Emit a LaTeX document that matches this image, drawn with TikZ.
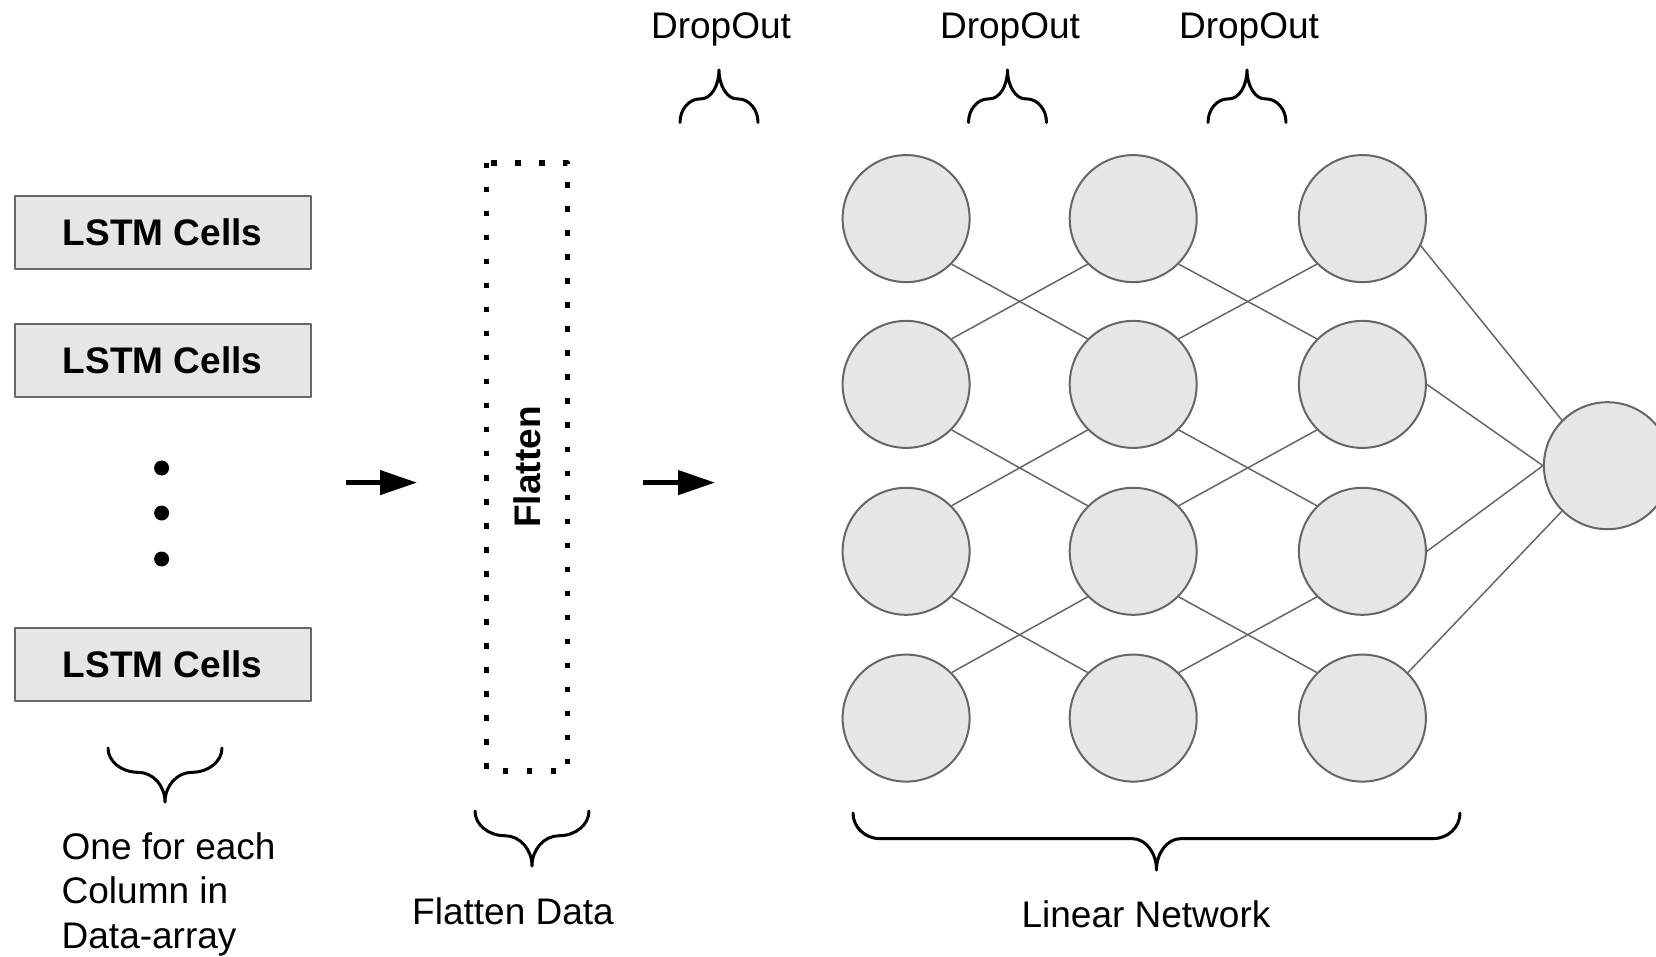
\documentclass[tikz,border=0pt]{standalone}
\usepackage{fontspec}
\setmainfont{Liberation Sans}
\usetikzlibrary{arrows.meta}
\definecolor{cellgray}{HTML}{E6E6E6}
\definecolor{linegray}{HTML}{666666}
% curly brace: left x, right x, y of the ends, depth (negative: tip up), corner
\newcommand{\curlybrace}[5]{%
  \pgfmathsetmacro\braceMid{(#1+#2)/2}
  \pgfmathsetmacro\braceSh{#3+0.45*#4}
  \pgfmathsetmacro\braceTip{#3+#4}
  \draw[bracestyle] (#1,#3) .. controls (#1,{#3+0.25*#4}) and ({#1+0.45*#5},\braceSh) .. ({#1+#5},\braceSh)
    -- ({\braceMid-0.9*#5},\braceSh) .. controls ({\braceMid-0.4*#5},\braceSh) and (\braceMid,{#3+0.7*#4}) .. (\braceMid,\braceTip)
    .. controls (\braceMid,{#3+0.7*#4}) and ({\braceMid+0.4*#5},\braceSh) .. ({\braceMid+0.9*#5},\braceSh)
    -- ({#2-#5},\braceSh) .. controls ({#2-0.45*#5},\braceSh) and (#2,{#3+0.25*#4}) .. (#2,#3);
}
\begin{document}
\begin{tikzpicture}[x=0.5pt, y=-0.5pt, line join=round,
    font=\fontsize{18.5}{22.25}\selectfont,
    cellbox/.style={draw=linegray, fill=cellgray, line width=1pt, inner sep=0pt,
      minimum width=148pt, minimum height=36.5pt, font=\fontsize{18.5}{22.25}\selectfont\bfseries},
    flatbox/.style={draw, line width=2.75pt, dash pattern=on 2.75pt off 9.25pt, inner sep=0pt,
      minimum width=304pt, minimum height=40.5pt, rotate=90, font=\fontsize{18.5}{22.25}\selectfont\bfseries},
    neuron/.style={circle, draw=linegray, fill=cellgray, line width=1pt, inner sep=0pt, minimum size=63.5pt},
    link/.style={draw=linegray, line width=0.75pt},
    flowarrow/.style={line width=2.25pt, -{Triangle[length=18.5pt, width=12pt]}},
    bracestyle/.style={line width=1.5pt, line cap=round},
    note/.style={inner sep=0pt}]
  \useasboundingbox (0,0) rectangle (1656,957);
  \clip (0,0) rectangle (1656,957);
  % LSTM column
  \node[cellbox] (lstm1) at (162.6,232.5) {LSTM Cells};
  \node[cellbox] (lstm2) at (162.6,360.5) {LSTM Cells};
  \node[cellbox] (lstmn) at (162.6,664.6) {LSTM Cells};
  \foreach \y in {468,513,559} \fill (161.6,\y) circle (3.75pt);
  \curlybrace{108}{222}{748}{54}{30}
  \node[note, anchor=north west, align=left] (lstmnote) at (61.3,832) {One for each\\Column in\\Data-array};
  % flatten
  \coordinate (in1) at (346,482.6);
  \coordinate (in2) at (417,482.6);
  \draw[flowarrow] (in1) -- (in2);
  \node[flatbox] (flat) at (527,467) {Flatten};
  \curlybrace{475}{589}{811}{55}{30}
  \node[note, anchor=base] (flatnote) at (513,924) {Flatten Data};
  \coordinate (out1) at (643,482.6);
  \coordinate (out2) at (715,482.6);
  \draw[flowarrow] (out1) -- (out2);
  % linear network
  \foreach \x [count=\c] in {906.1,1133.2,1362.4}
    \foreach \y [count=\r] in {218.6,384.4,551.3,718.1}
      \node[neuron] (n\c\r) at (\x,\y) {};
  \node[neuron] (out) at (1607.4,465.7) {};
  \foreach \c/\d in {1/2,2/3} {
    \foreach \r/\s in {1/2,2/3,3/4}
      \draw[link] (n\c\r.south east) -- (n\d\s.north west);
    \foreach \r/\s in {2/1,3/2,4/3}
      \draw[link] (n\c\r.north east) -- (n\d\s.south west);
  }
  \draw[link] (n31.-25) -- (out.135);
  \draw[link] (n32.east) -- (out.west);
  \draw[link] (n33.east) -- (out.west);
  \draw[link] (n34.north east) -- (out.-135);
  \curlybrace{853}{1460}{813}{57}{27}
  \node[note, anchor=base] (linnote) at (1146,927) {Linear Network};
  % dropout
  \foreach \m/\t [count=\i] in {719/721,1007.5/1010,1247/1249} {
    \curlybrace{\m-39}{\m+39}{122.5}{-52.5}{20}
    \node[note, anchor=base] (drop\i) at (\t,39) {DropOut};
  }
\end{tikzpicture}
\end{document}
